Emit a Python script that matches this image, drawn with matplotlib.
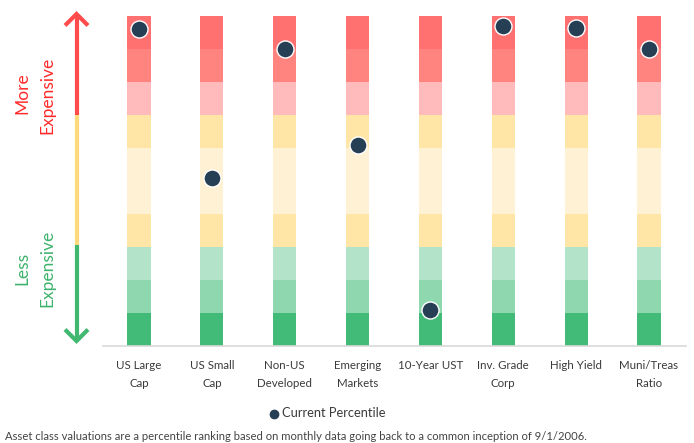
import matplotlib
matplotlib.use("Agg")
import matplotlib.pyplot as plt
from matplotlib.lines import Line2D

plt.rcParams['font.family'] = ['Lato', 'DejaVu Sans']

categories = ["US Large\nCap", "US Small\nCap", "Non-US\nDeveloped", "Emerging\nMarkets",
              "10-Year UST", "Inv. Grade\nCorp", "High Yield", "Muni/Treas\nRatio"]
current_percentile = [96, 51, 90, 61, 11, 97, 96.5, 90]
band_edges = [0, 10, 20, 30, 40, 50, 60, 70, 80, 90, 100]
band_colors = ["#42BA78", "#8FD8AF", "#B3E4C9", "#FFE6A6", "#FFF1D3",
               "#FFF1D3", "#FFE6A6", "#FFBBBB", "#FF8480", "#FF7070"]

W, H = 694, 443
fig = plt.figure(figsize=(W / 100, H / 100), dpi=100)
ax = fig.add_axes([103 / W, 1 - 346 / H, 583 / W, 330 / H])

x = list(range(len(categories)))
for i in range(len(band_colors)):
    ax.bar(x, band_edges[i + 1] - band_edges[i], bottom=band_edges[i], width=0.316,
           color=band_colors[i], linewidth=0)

ax.scatter(x, current_percentile, s=150, color="#273F55", edgecolor="white",
           linewidth=1.0, zorder=5, clip_on=False)

ax.set_xlim(-0.494, 7.508)
ax.set_ylim(0, 100)
ax.set_yticks([])
ax.set_xticks(x)
ax.set_xticklabels(categories, fontsize=8.3, color="#3A3A3A", linespacing=1.75)
ax.tick_params(axis='x', length=0, pad=10)
for s in ["top", "right", "left"]:
    ax.spines[s].set_visible(False)
ax.spines["bottom"].set_color("#D9D9D9")
ax.spines["bottom"].set_linewidth(1.2)

def fx(px):
    return px / W

def fy(py):
    return 1 - py / H

ax_x = 76.5
lw = 3.0
segs = [(14, 115, "#FF4B4B"), (115, 245, "#FFDA7A"), (245, 341, "#40B870")]
for y0, y1, c in segs:
    fig.add_artist(Line2D([fx(ax_x), fx(ax_x)], [fy(y0), fy(y1)], color=c, lw=lw,
                          solid_capstyle='butt'))
fig.add_artist(Line2D([fx(66.5), fx(ax_x), fx(86.5)], [fy(24), fy(14), fy(24)],
                      color="#FF4B4B", lw=lw, solid_joinstyle='miter'))
fig.add_artist(Line2D([fx(66.5), fx(ax_x), fx(86.5)], [fy(331), fy(341), fy(331)],
                      color="#40B870", lw=lw, solid_joinstyle='miter'))

red = "#FF2A2A"
green = "#3DB36B"
fs = 12.5
fig.text(fx(22), fy(93), "More", rotation=90, ha='center', va='center', color=red, fontsize=fs)
fig.text(fx(47), fy(95), "Expensive", rotation=90, ha='center', va='center', color=red, fontsize=fs)
fig.text(fx(22), fy(268), "Less", rotation=90, ha='center', va='center', color=green, fontsize=fs)
fig.text(fx(47), fy(268), "Expensive", rotation=90, ha='center', va='center', color=green, fontsize=fs)

fig.add_artist(Line2D([fx(274)], [fy(414)], marker='o', markersize=6, color="#273F55",
                      linestyle='none'))
fig.text(fx(282), fy(413), "Current Percentile", ha='left', va='center', fontsize=9.3, color="#3A3A3A")

fig.text(fx(5), fy(436), "Asset class valuations are a percentile ranking based on monthly data going back to a common inception of 9/1/2006.",
         ha='left', va='center', fontsize=8.1, color="#444444")

fig.savefig("out.png", dpi=100)
